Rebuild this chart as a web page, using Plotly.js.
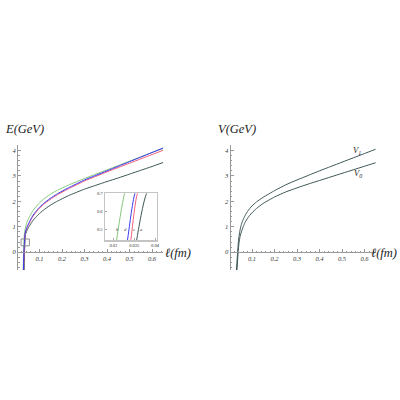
<!DOCTYPE html>
<html><head><meta charset="utf-8">
<script src="https://cdn.plot.ly/plotly-3.0.1.min.js"></script>
<style>html,body{margin:0;padding:0;background:#fff}#c{width:400px;height:400px}</style>
</head><body><div id="c"></div>
<script>
// ---- Left panel: E(l) for four cases a, b, c, d ----
const lB = [0.0275,0.0292,0.0308,0.0327,0.037,0.042,0.05,0.058,0.065,0.072,0.08,0.095,0.117,0.147,0.176,0.228,0.3,0.35,0.4,0.45,0.5,0.55,0.6,0.65];
const eB = [-0.7,0.0,0.44,0.70,0.95,1.12,1.30,1.44,1.55,1.65,1.74,1.90,2.08,2.27,2.42,2.64,2.90,3.07,3.24,3.41,3.58,3.75,3.92,4.08];
const lD = [0.0285,0.0305,0.0334,0.0352,0.04,0.045,0.05,0.058,0.065,0.072,0.08,0.095,0.117,0.147,0.176,0.228,0.3,0.35,0.4,0.45,0.5,0.55,0.6,0.65];
const eD = [-0.7,0.0,0.44,0.70,0.88,1.0,1.10,1.24,1.36,1.46,1.56,1.72,1.91,2.11,2.28,2.53,2.84,3.02,3.20,3.38,3.56,3.74,3.92,4.10];
const lC = [0.029,0.0315,0.0342,0.0358,0.04,0.045,0.05,0.058,0.065,0.072,0.08,0.095,0.117,0.147,0.176,0.228,0.3,0.35,0.4,0.45,0.5,0.55,0.6,0.65];
const eC = [-0.7,0.0,0.44,0.70,0.84,0.96,1.06,1.20,1.32,1.42,1.52,1.68,1.87,2.07,2.24,2.49,2.80,2.98,3.16,3.33,3.50,3.67,3.84,4.01];
const lA = [0.0318,0.0335,0.0356,0.038,0.043,0.05,0.058,0.065,0.072,0.08,0.095,0.117,0.147,0.176,0.228,0.3,0.35,0.4,0.45,0.5,0.55,0.6,0.65];
const eA = [-0.7,0.0,0.44,0.70,0.82,0.95,1.07,1.17,1.26,1.34,1.48,1.65,1.84,1.99,2.22,2.48,2.63,2.78,2.92,3.07,3.22,3.37,3.53];
// ---- Right panel: V1, V0 ----
const lV1 = [0.031,0.036,0.040,0.045,0.05,0.056,0.063,0.071,0.08,0.09,0.1,0.12,0.15,0.2,0.25,0.3,0.35,0.4,0.45,0.5,0.55,0.6,0.65];
const v1 = [-0.7,0.0,0.45,0.78,1.0,1.18,1.33,1.47,1.60,1.72,1.82,1.98,2.16,2.42,2.65,2.84,3.02,3.20,3.37,3.54,3.71,3.88,4.05];
const lV0 = [0.033,0.0385,0.042,0.047,0.05,0.056,0.063,0.071,0.08,0.09,0.1,0.12,0.15,0.2,0.25,0.3,0.35,0.4,0.45,0.5,0.55,0.6,0.65];
const v0 = [-0.7,0.0,0.35,0.62,0.72,0.88,1.05,1.20,1.33,1.45,1.55,1.72,1.92,2.17,2.37,2.53,2.68,2.82,2.96,3.10,3.24,3.38,3.52];
const xTicks = [0.1,0.2,0.3,0.4,0.5,0.6];
const yTicks = [0,1,2,3,4];
const insetX = [0.03,0.035,0.04];
const insetY = [0.5,0.6,0.7];

const cG='#86c77a', cBl='#3a3af0', cR='#f0607a', cK='#3e5656';
const SER = 'Liberation Serif';
const tf = {family:SER, size:6.5, color:'#333', style:'italic', weight:'normal'};
const lab = {family:SER, size:12.5, style:'italic', weight:'normal', color:'#222'};
const px = v => v/400, py = v => 1 - v/400;
const ydom = [0.325, 0.6365], yr = [-0.7, 4.2];
const y0pos = ydom[0] + (0 - yr[0])/(yr[1]-yr[0])*(ydom[1]-ydom[0]);
const LX = [17/400, (17+146.25)/400], RX = [229.5/400, (229.5+146.25)/400];

function tr(x,y,c,xa,ya){return {x:x,y:y,mode:'lines',line:{color:c,width:1,shape:'spline',smoothing:0.5},xaxis:xa,yaxis:ya,hoverinfo:'skip'};}
const data = [
  tr(lA,eA,cK,'x','y'), tr(lB,eB,cG,'x','y'), tr(lC,eC,cR,'x','y'), tr(lD,eD,cBl,'x','y'),
  tr(lV1,v1,cK,'x2','y2'), tr(lV0,v0,cK,'x2','y2'),
  tr(lA,eA,cK,'x3','y3'), tr(lB,eB,cG,'x3','y3'), tr(lC,eC,cR,'x3','y3'), tr(lD,eD,cBl,'x3','y3')
];
function xax(dom){return {domain:dom, range:[0,0.65], anchor:'free', position:y0pos, showline:true, linecolor:'#999', linewidth:1,
  showgrid:false, zeroline:false, ticks:'inside', ticklen:3, tickcolor:'#999', tickvals:xTicks, ticktext:xTicks.map(v=>v.toFixed(1)),
  tickfont:tf, minor:{ticks:'inside', ticklen:1.5, tickcolor:'#999', dtick:0.02}};}
function yax(pos){return {domain:ydom, range:yr, anchor:'free', position:pos, showline:true, linecolor:'#999', linewidth:1,
  showgrid:false, zeroline:false, ticks:'inside', ticklen:3, tickcolor:'#999', tickvals:yTicks, ticktext:yTicks.map(String),
  tickfont:tf, minor:{ticks:'inside', ticklen:1.5, tickcolor:'#999', dtick:0.2}};}
const itf = {family:SER, size:4.5, color:'#333', style:'italic', weight:'normal'};
function ann(t,x,y,f,xa){return {text:t, x:px(x), y:py(y), xref:'paper', yref:'paper', xanchor:xa||'center', yanchor:'middle', showarrow:false, font:f};}
const layout = {
  width:400, height:400, margin:{l:0,r:0,t:0,b:0}, paper_bgcolor:'#fff', plot_bgcolor:'rgba(0,0,0,0)', showlegend:false,
  xaxis: xax(LX), yaxis: yax(LX[0]),
  xaxis2: xax(RX), yaxis2: yax(RX[0]),
  xaxis3: {domain:[105/400,156.7/400], range:[0.028,0.0404], anchor:'y3', showline:true, mirror:true, linecolor:'#c4c4c4', linewidth:1.5,
    showgrid:false, zeroline:false, ticks:'inside', ticklen:2, tickcolor:'#aaa', tickvals:insetX, ticktext:['0.03','0.035','0.04'], tickfont:itf},
  yaxis3: {domain:[0.4,0.51675], range:[0.44,0.70], anchor:'x3', showline:true, mirror:true, linecolor:'#c4c4c4', linewidth:1.5,
    showgrid:false, zeroline:false, ticks:'inside', ticklen:2, tickcolor:'#aaa', tickvals:insetY, ticktext:['0.5','0.6','0.7'], tickfont:itf},
  shapes:[{type:'rect', xref:'x', yref:'y', x0:0.018, x1:0.055, y0:0.25, y1:0.52, line:{color:'#777', width:0.8}}],
  annotations:[
    ann('E(GeV)',3,129,lab,'left'),
    ann('ℓ(fm)',163,253,lab,'left'),
    ann('V(GeV)',216,129,lab,'left'),
    ann('ℓ(fm)',399,253,lab,'right'),
    ann('V<sub>1</sub>',357,150,{family:SER,size:8.5,style:'italic',weight:'normal',color:'#222'}),
    ann('V<sub>0</sub>',358,173,{family:SER,size:8.5,style:'italic',weight:'normal',color:'#222'}),
    ann('b',117.3,229.3,itf), ann('d',125.7,229.3,itf), ann('c',134.3,229.3,itf), ann('a',141,229.3,itf)
  ]
};
Plotly.newPlot('c', data, layout, {staticPlot:true, displayModeBar:false});
</script></body></html>
